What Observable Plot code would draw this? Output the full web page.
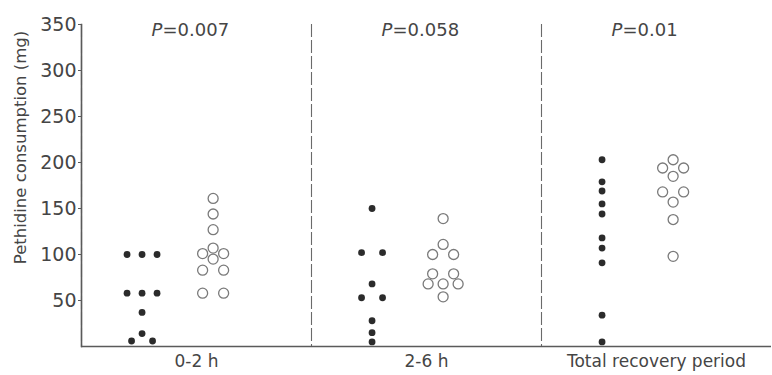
<!DOCTYPE html>
<html>
<head>
<meta charset="utf-8">
<script src="https://cdn.jsdelivr.net/npm/d3@7"></script>
<script src="https://cdn.jsdelivr.net/npm/@observablehq/plot@0.6"></script>
<style>
  html, body { margin: 0; padding: 0; background: #fff; overflow: hidden; }
</style>
</head>
<body>
<div id="chart"></div>
<script>
// ---- data ----
const periods = ["0-2 h", "2-6 h", "Total recovery period"];
const pValues = ["0.007", "0.058", "0.01"];
const yTicks = [50, 100, 150, 200, 250, 300, 350];
const yLabel = "Pethidine consumption (mg)";

// filled dots (one group) and open circles (other group), mg
const filled0to2 = [100, 100, 100, 58, 58, 58, 37, 14, 6, 6];
const open0to2   = [161, 144, 127, 107, 101, 101, 95, 83, 83, 58, 58];
const filled2to6 = [150, 102, 102, 68, 53, 53, 28, 15, 5];
const open2to6   = [139, 111, 100, 100, 79, 79, 68, 68, 68, 54];
const filledTotal = [203, 179, 169, 155, 144, 118, 107, 91, 34, 5];
const openTotal   = [203, 194, 194, 185, 168, 168, 157, 138, 98];

// ---- build table; spread equal values side by side (dot-plot layout) ----
const series = [
  [periods[0], "filled", filled0to2], [periods[0], "open", open0to2],
  [periods[1], "filled", filled2to6], [periods[1], "open", open2to6],
  [periods[2], "filled", filledTotal], [periods[2], "open", openTotal]
];
const rows = [];
for (const [period, group, values] of series) {
  const counts = d3.rollup(values, v => v.length, v => v);
  const seen = new Map();
  for (const value of values) {
    const n = counts.get(value);
    const i = seen.get(value) || 0;
    seen.set(value, i + 1);
    const spacing = n >= 3 ? 15 : 21;
    rows.push({period, group, value, off: (i - (n - 1) / 2) * spacing});
  }
}
const offsets = Array.from(new Set(rows.map(d => d.off)));
const pRows = periods.map((period, i) => ({period, p: pValues[i]}));

const ink = "#454545";
const lineColor = "#5a5a5a";

const dotMarks = [];
for (const o of offsets) {
  dotMarks.push(Plot.dot(rows.filter(d => d.off === o && d.group === "filled"), {
    fx: "period", x: "group", y: "value", dx: o, r: 3.4, fill: "#2b2b2b", stroke: "none"
  }));
  dotMarks.push(Plot.dot(rows.filter(d => d.off === o && d.group === "open"), {
    fx: "period", x: "group", y: "value", dx: o, r: 5, fill: "none", stroke: "#7a7a7a", strokeWidth: 1.3
  }));
}

const chart = Plot.plot({
  width: 772,
  height: 375,
  marginLeft: 80,
  marginRight: 0,
  marginTop: 24,
  marginBottom: 29,
  style: {fontFamily: "DejaVu Sans", color: ink, background: "#fff"},
  fx: {domain: periods, padding: 0, label: null},
  x: {type: "point", domain: ["filled", "open"], padding: 1.118, align: 0.381, round: false, axis: null},
  y: {domain: [0, 350], label: null},
  marks: [
    Plot.frame({anchor: "left", stroke: "#6a6a6a", strokeWidth: 1.1, strokeDasharray: "12,4"}),
    Plot.frame({anchor: "left", facetAnchor: "left", stroke: lineColor, strokeWidth: 1.6}),
    Plot.ruleY([0], {stroke: lineColor, strokeWidth: 1.6}),
    Plot.axisY({ticks: yTicks, tickSize: 3, tickPadding: 2, fontSize: 19, label: null, stroke: lineColor, fill: ink}),
    Plot.axisFx({anchor: "bottom", tickSize: 0, tickPadding: 8, fontSize: 17, label: null, fill: ink}),
    Plot.text([yLabel], {text: d => d, frameAnchor: "left", textAnchor: "middle", rotate: -90, dx: -61, dy: -38,
      fontSize: 16.5, fill: ink, facetAnchor: "left"}),
    Plot.text(pRows, {fx: "period", text: () => "P", frameAnchor: "top-left", dx: 70, dy: 6,
      textAnchor: "start", lineAnchor: "middle", fontStyle: "italic", fontSize: 18, fill: ink}),
    Plot.text(pRows, {fx: "period", text: d => "=" + d.p, frameAnchor: "top-left", dx: 81, dy: 6,
      textAnchor: "start", lineAnchor: "middle", fontSize: 18, fill: ink}),
    ...dotMarks
  ]
});
document.getElementById("chart").append(chart);
</script>
</body>
</html>
